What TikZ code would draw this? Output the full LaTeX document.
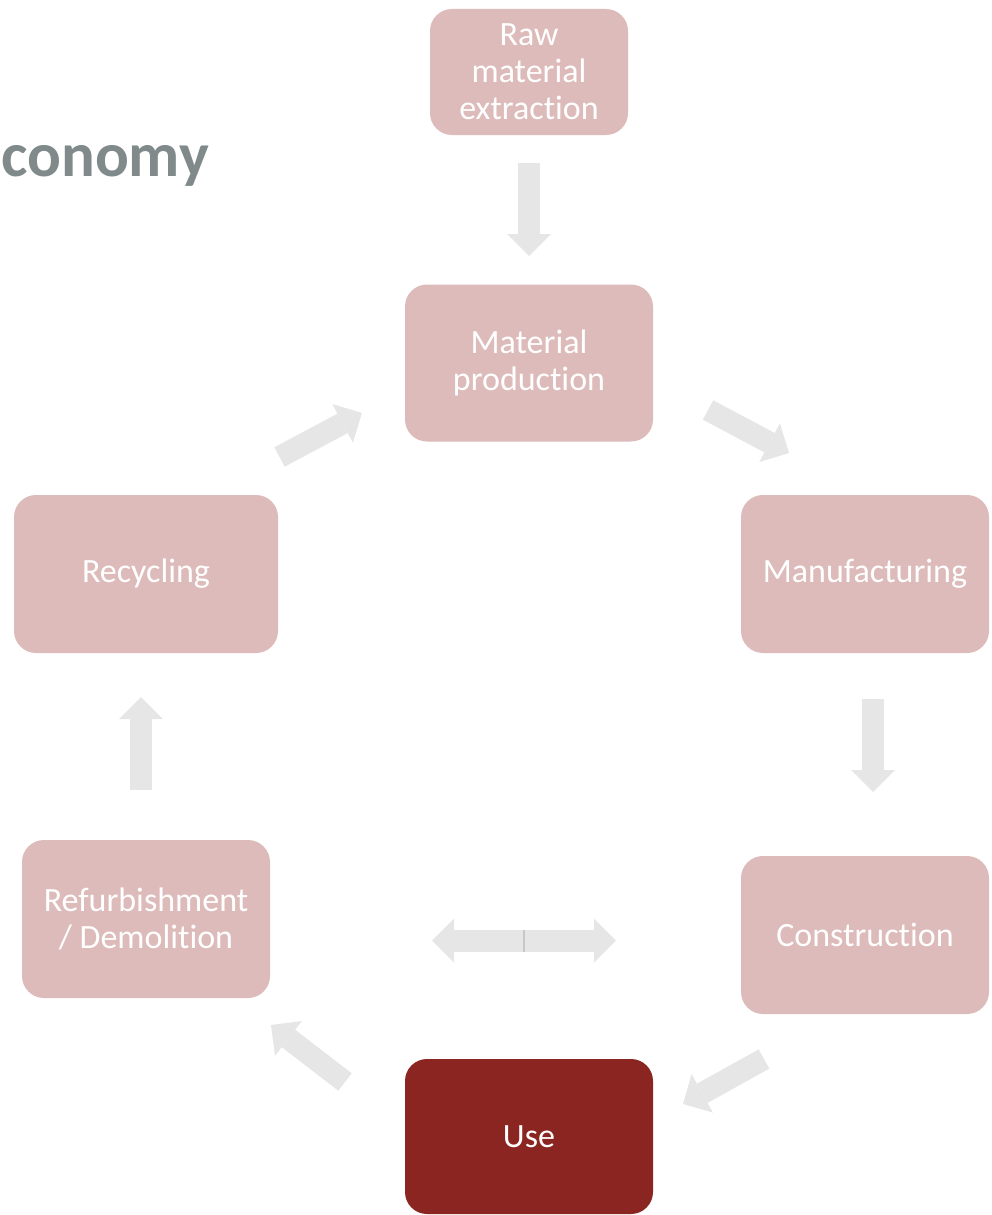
\documentclass[tikz,border=0pt]{standalone}
\usepackage{fontspec}
\setmainfont{Carlito}[Ligatures=NoCommon]
\usetikzlibrary{arrows.meta}
\definecolor{boxpink}{RGB}{221,187,186}
\definecolor{usered}{RGB}{139,37,33}
\definecolor{flowgray}{RGB}{229,230,229}
\definecolor{seamgray}{RGB}{198,201,201}
\definecolor{titlegray}{RGB}{128,138,138}

\begin{document}
\begin{tikzpicture}[x=1pt,y=-1pt,
  stage/.style={fill=boxpink, rounded corners=22pt, text=white, align=center,
    minimum width=248pt, minimum height=157pt, inner sep=0pt,
    font=\fontsize{34}{37}\selectfont},
  flow/.style={draw=flowgray, line width=22pt,
    -{Triangle[width=44pt,length=22pt,line width=0pt]}},
  seam/.style={draw=seamgray, line width=1.5pt}]
\useasboundingbox (0,0) rectangle (991,1215);
%% heading (cut off at the left)
\node[anchor=base east, inner sep=0pt, text=titlegray,
  font=\bfseries\fontsize{63}{63}\selectfont] (title) at (209,176) {conomy};
%% the stages
\node[stage, minimum width=198pt, minimum height=126pt] (raw) at (529,72) {Raw\\material\\extraction};
\node[stage] (mat) at (529,363) {Material\\production};
\node[stage, minimum height=158pt] (manu) at (865,574) {Manufacturing};
\node[stage, minimum height=158pt] (cons) at (865,935) {Construction};
\node[stage, fill=usered, minimum height=155pt] (use) at (529,1136.5) {Use};
\node[stage, minimum height=158pt] (refurb) at (146,919) {Refurbishment\\/ Demolition};
\node[stage, minimum width=264pt, minimum height=158pt] (recyc) at (146,574) {Recycling};
%% arrow ends
\coordinate (rawT) at (529,163);   \coordinate (rawH) at (529,256);
\coordinate (matT) at (708,410);   \coordinate (matH) at (789,453);
\coordinate (manuT) at (873,699);  \coordinate (manuH) at (873,792);
\coordinate (consT) at (764,1059); \coordinate (consH) at (683,1104);
\coordinate (useT) at (345,1082);  \coordinate (useH) at (271,1025);
\coordinate (refT) at (141,790);   \coordinate (refH) at (141,697);
\coordinate (recT) at (279.5,457); \coordinate (recH) at (362,413);
\coordinate (mid) at (524,940.5);
\coordinate (midL) at (432,940.5); \coordinate (midR) at (616,940.5);
%% the cycle
\draw[flow] (rawT) -- (rawH);
\draw[flow] (matT) -- (matH);
\draw[flow] (manuT) -- (manuH);
\draw[flow] (consT) -- (consH);
\draw[flow] (useT) -- (useH);
\draw[flow] (refT) -- (refH);
\draw[flow] (recT) -- (recH);
%% the double arrow
\draw[flow] (mid) -- (midL);
\draw[flow] (mid) -- (midR);
\draw[seam] ([yshift=11pt]mid) -- ([yshift=-11pt]mid);
\end{tikzpicture}
\end{document}
